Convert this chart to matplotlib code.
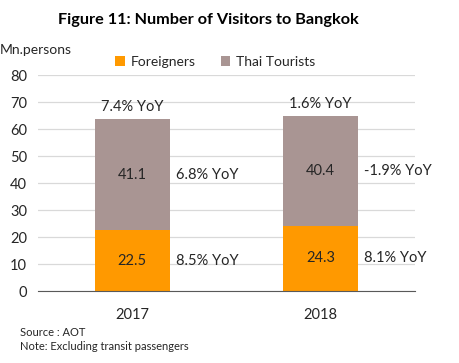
import numpy as np
import matplotlib.pyplot as plt

plt.rcParams["font.family"] = ["Lato", "DejaVu Sans"]

years = ["2017", "2018"]
foreigners = [22.5, 24.3]
thai = [41.1, 40.4]
total_yoy = ["7.4% YoY", "1.6% YoY"]
thai_yoy = ["6.8% YoY", "-1.9% YoY"]
foreign_yoy = ["8.5% YoY", "8.1% YoY"]

orange = "#FF9900"
mauve = "#A99593"
txt = "#262626"

fig = plt.figure(figsize=(4.59, 3.63), dpi=100)
ax = fig.add_axes([0.083, 0.198, 0.821, 0.595])

x = np.arange(len(years))
w = 0.4
ax.bar(x, foreigners, w, color=orange, label="Foreigners", zorder=3)
ax.bar(x, thai, w, bottom=foreigners, color=mauve, label="Thai Tourists", zorder=3)

for i in range(len(years)):
    top = foreigners[i] + thai[i]
    ax.text(x[i], foreigners[i] / 2, f"{foreigners[i]:.1f}", ha="center", va="center",
            fontsize=10.5, color=txt, zorder=4)
    ax.text(x[i], foreigners[i] + thai[i] / 2, f"{thai[i]:.1f}", ha="center", va="center",
            fontsize=10.5, color=txt, zorder=4)
    ax.text(x[i], top + 2, total_yoy[i], ha="center", va="bottom", fontsize=10.5, color=txt)
    ax.text(x[i] + w / 2 + 0.03, foreigners[i] + thai[i] / 2, thai_yoy[i], ha="left",
            va="center", fontsize=10.5, color=txt)
    ax.text(x[i] + w / 2 + 0.03, foreigners[i] / 2, foreign_yoy[i], ha="left",
            va="center", fontsize=10.5, color=txt)

ax.set_xlim(-0.5, 1.5)
ax.set_ylim(0, 80)
ax.set_yticks(np.arange(0, 81, 10))
ax.set_xticks(x)
ax.set_xticklabels(years)
ax.tick_params(length=0, labelsize=10.5, colors=txt)
ax.tick_params(axis="x", pad=12)
ax.tick_params(axis="y", pad=8)
ax.yaxis.grid(True, color="#D9D9D9", linewidth=0.9, zorder=0)
for s in ["top", "right", "left"]:
    ax.spines[s].set_visible(False)
ax.spines["bottom"].set_color("#595959")
ax.spines["bottom"].set_zorder(5)

ax.legend(loc="lower center", bbox_to_anchor=(0.47, 1.0), ncol=2, frameon=False,
          fontsize=10, handlelength=0.7, handleheight=0.7, handletextpad=0.4,
          columnspacing=1.8, borderaxespad=0.1, labelcolor=txt)

fig.text(0.455, 0.945, "Figure 11: Number of Visitors to Bangkok", ha="center",
         va="center", fontsize=11.7, fontweight="bold", color="black")
fig.text(0.0, 0.862, "Mn.persons", ha="left", va="center", fontsize=10, color=txt)
fig.text(0.044, 0.083, "Source : AOT", ha="left", va="center", fontsize=8, color=txt)
fig.text(0.044, 0.046, "Note: Excluding transit passengers", ha="left", va="center",
         fontsize=8, color=txt)

fig.savefig("out.png", dpi=100)
